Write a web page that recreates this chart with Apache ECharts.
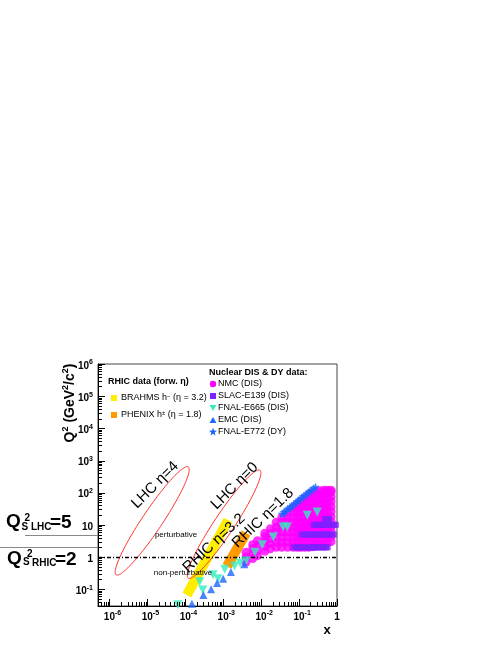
<!DOCTYPE html>
<html><head><meta charset="utf-8">
<script src="https://cdn.jsdelivr.net/npm/echarts@6/dist/echarts.min.js"></script>
<style>html,body{margin:0;padding:0;background:#fff}#c{width:498px;height:645px}</style>
</head><body><div id="c"></div>
<script>
// ---------------- data ----------------
const X_MIN = 5e-7, X_MAX = 1;
const Y_MIN = 0.03, Y_MAX = 1e6;
const xTickExps = [-6, -5, -4, -3, -2, -1, 0];
const yTickExps = [-1, 0, 1, 2, 3, 4, 5, 6];

// NMC (DIS): x columns and Q2 values per column
const nmcX = [0.004, 0.006, 0.008, 0.0125, 0.0175, 0.025, 0.035, 0.05, 0.07, 0.09, 0.11, 0.14, 0.18, 0.225, 0.275, 0.35, 0.45, 0.55, 0.7];
const nmcQ2 = [
  [0.7, 1.0, 1.4],
  [0.9, 1.3, 1.8, 2.4],
  [1.1, 1.6, 2.3, 3.2],
  [1.5, 2.1, 3.0, 4.3, 5.5],
  [1.8, 2.6, 3.7, 5.3, 7.5],
  [2.0, 2.9, 4.2, 6.0, 8.5, 12],
  [2.0, 2.9, 4.2, 6.0, 8.6, 12, 17],
  [2.0, 2.9, 4.2, 6.0, 8.6, 12, 17, 24],
  [2.0, 2.9, 4.2, 6.0, 8.6, 12, 17, 25, 34],
  [2.0, 2.9, 4.2, 6.0, 8.6, 12, 17, 25, 35, 44],
  [2.0, 2.9, 4.2, 6.0, 8.6, 12, 17, 25, 36, 52],
  [2.0, 2.9, 4.2, 6.0, 8.6, 12, 17, 25, 36, 50, 66],
  [2.0, 2.9, 4.2, 6.0, 8.6, 12, 17, 25, 36, 52, 70, 85],
  [2.1, 3.0, 4.3, 6.2, 8.8, 12.5, 18, 26, 37, 53, 75, 100],
  [2.2, 3.1, 4.5, 6.4, 9.2, 13, 19, 27, 39, 56, 80, 110],
  [2.4, 3.4, 4.9, 7.0, 10, 14, 20, 29, 42, 60, 85, 115],
  [2.6, 3.7, 5.3, 7.6, 11, 15.5, 22, 32, 46, 65, 92, 120],
  [2.8, 4.0, 5.7, 8.2, 11.7, 16.7, 24, 34, 49, 70, 100, 120],
  [3.0, 4.3, 6.1, 8.7, 12.5, 18, 26, 37, 53, 75, 105, 120]
];
// SLAC-E139 (DIS): Q2 rows and x values per row
const slacQ2 = [2, 5, 10, 15];
const slacX = [
  [0.075, 0.089, 0.1, 0.12, 0.14, 0.16, 0.2, 0.22, 0.25, 0.28, 0.31, 0.35, 0.4, 0.45, 0.5, 0.55],
  [0.12, 0.14, 0.16, 0.185, 0.2, 0.22, 0.25, 0.28, 0.31, 0.35, 0.4, 0.45, 0.5, 0.55, 0.6, 0.7, 0.8],
  [0.25, 0.28, 0.31, 0.35, 0.4, 0.45, 0.5, 0.55, 0.6, 0.7, 0.8, 0.9],
  [0.5, 0.55, 0.6]
];
// FNAL-E665 (DIS)
const e665X  = [6.4e-5, 2.4e-4, 2.9e-4, 5.4e-4, 7.3e-4, 1.1e-3, 2.0e-3, 2.8e-3, 4.0e-3, 6.9e-3, 1.07e-2, 2.1e-2, 3.8e-2, 4.9e-2, 0.165, 0.30];
const e665Q2 = [0.033, 0.17, 0.095, 0.28, 0.21, 0.42, 0.53, 0.65, 0.75, 1.4, 2.4, 4.2, 8.5, 8.5, 20, 25];
// EMC (DIS)
const emcX  = [1.5e-4, 3.0e-4, 4.8e-4, 6.9e-4, 1.0e-3, 1.6e-3, 3.6e-3];
const emcQ2 = [0.035, 0.066, 0.10, 0.155, 0.21, 0.34, 0.6];
// FNAL-E772 (DY)
const e772X  = [0.036, 0.040, 0.045, 0.050, 0.056, 0.063, 0.071, 0.080, 0.090, 0.10, 0.115, 0.13, 0.145, 0.165, 0.185, 0.21, 0.24, 0.27];
const e772Q2 = [22, 25, 27, 31, 34, 38, 43, 47, 54, 60, 68, 77, 84, 95, 108, 120, 136, 150];

// RHIC bands (x, Q2 at both ends)
const brahmsBand = [[1.1e-4, 0.066], [1.35e-3, 14]];
const phenixBand = [[1.26e-3, 0.52], [4.0e-3, 5.6]];
// LHC ellipses: ends of the long axis
const ellipseLow  = [[1.5e-6, 0.28], [1.2e-4, 0.22]];
const ellipseHigh = [[1.2e-4, 630], [9.3e-3, 500]];

// annotations
const annoText = ['LHC η=4', 'LHC η=0', 'RHIC η=3.2', 'RHIC η=1.8', 'perturbative', 'non-perturbative'];
const annoX = [1.6e-5, 2.0e-3, 5.7e-4, 1.12e-2, 5.7e-5, 8.7e-5];
const annoQ2 = [174, 162, 2.7, 16.3, 4.8, 0.32];
const qsLevels = [5, 2];

// ---------------- styles ----------------
const FONT = "'Liberation Sans', Arial, Helvetica, sans-serif";
const C_NMC = '#ff00ff', C_SLAC = '#8020ff', C_E665 = '#33eebb', C_BLUE = '#1a66ff';
const C_YEL = '#ffee00', C_ORA = '#ff9a00', C_RED = '#ff3333';
const annoRot = [45, 45, 43, 44, 0, 0];
const annoSize = [15, 15, 15, 15, 8, 8];
const qsLineLen = [73, 98];
const STAR = 'path://M12,0 L15,8.5 L24,9 L17,14.5 L19.5,23.5 L12,18.5 L4.5,23.5 L7,14.5 L0,9 L9,8.5 Z';

const nmcData = [];
nmcX.forEach((x, i) => nmcQ2[i].forEach(q => nmcData.push([x, q])));
const slacData = [];
slacQ2.forEach((q, i) => slacX[i].forEach(x => slacData.push([x, q])));
const zip = (a, b) => a.map((v, i) => [v, b[i]]);

const richTick = {
  b: {fontSize: 10, fontWeight: 'bold', fontFamily: FONT, lineHeight: 14, fill: '#000'},
  s: {fontSize: 7, fontWeight: 'bold', fontFamily: FONT, lineHeight: 6, verticalAlign: 'top', fill: '#000'}
};
function tickText(e) {
  if (e === 0) return '{b|1}';
  if (e === 1) return '{b|10}';
  return '{b|10}{s|' + e + '}';
}

function renderAxes(params, api) {
  const bl = api.coord([X_MIN, Y_MIN]);
  const L = bl[0], B = bl[1];
  const ch = [];
  const ln = (x1, y1, x2, y2) => ch.push({type: 'line', shape: {x1, y1, x2, y2}, style: {stroke: '#000', lineWidth: 1}});
  for (let e = -7; e <= 0; e++) {
    for (let k = 1; k <= 9; k++) {
      const v = k * Math.pow(10, e);
      if (v <= X_MIN * 1.0001 || v > X_MAX * 1.0001) continue;
      const px = Math.round(api.coord([v, Y_MIN])[0]) + 0.5;
      ln(px, B, px, B - (k === 1 ? 7 : 4));
    }
  }
  for (let e = -2; e <= 6; e++) {
    for (let k = 1; k <= 9; k++) {
      const v = k * Math.pow(10, e);
      if (v <= Y_MIN * 1.0001 || v > Y_MAX * 1.0001) continue;
      const py = Math.round(api.coord([X_MIN, v])[1]) + 0.5;
      ln(L, py, L + (k === 1 ? 7 : 4), py);
    }
  }
  xTickExps.forEach(e => {
    const px = api.coord([Math.pow(10, e), Y_MIN])[0];
    ch.push({type: 'text', x: e === 0 ? px : px - 5.6, y: B + 4,
      style: {text: tickText(e), rich: richTick, align: e === 0 ? 'center' : 'left', verticalAlign: 'top',
        textAlign: e === 0 ? 'center' : 'left', textVerticalAlign: 'top', font: 'bold 10px ' + FONT, fill: '#000'}});
  });
  yTickExps.forEach(e => {
    const py = api.coord([X_MIN, Math.pow(10, e)])[1];
    ch.push({type: 'text', x: L - 5, y: py + 2,
      style: {text: tickText(e), rich: richTick, align: 'right', verticalAlign: 'middle',
        textAlign: 'right', textVerticalAlign: 'middle', font: 'bold 10px ' + FONT, fill: '#000'}});
  });
  qsLevels.forEach((q, i) => {
    const py = Math.round(api.coord([X_MIN, q])[1]) + 0.5;
    ch.push({type: 'line', shape: {x1: L - qsLineLen[i], y1: py, x2: L, y2: py}, style: {stroke: '#888', lineWidth: 1}});
  });
  return {type: 'group', children: ch};
}

function renderEllipse(params, api) {
  const p1 = api.coord([api.value(0), api.value(1)]);
  const p2 = api.coord([api.value(2), api.value(3)]);
  const cx = (p1[0] + p2[0]) / 2, cy = (p1[1] + p2[1]) / 2;
  const dx = p2[0] - p1[0], dy = p2[1] - p1[1];
  const a = Math.hypot(dx, dy) / 2, b = 10;
  const ux = dx / (2 * a), uy = dy / (2 * a), vx = -uy, vy = ux;
  const pts = [];
  for (let i = 0; i < 120; i++) {
    const t = i / 120 * Math.PI * 2;
    pts.push([cx + a * Math.cos(t) * ux + b * Math.sin(t) * vx, cy + a * Math.cos(t) * uy + b * Math.sin(t) * vy]);
  }
  return {type: 'polygon', shape: {points: pts}, style: {fill: 'none', stroke: C_RED, lineWidth: 1}};
}

function renderAnno(params, api) {
  const i = api.value(2);
  const p = api.coord([api.value(0), api.value(1)]);
  return {type: 'text', x: p[0], y: p[1], rotation: annoRot[i] * Math.PI / 180,
    style: {text: annoText[i], font: annoSize[i] + 'px ' + FONT, fill: '#000', align: 'center', verticalAlign: 'middle',
      textAlign: 'center', textVerticalAlign: 'middle'}};
}

function starPts(cx, cy, R, r) {
  const p = [];
  for (let i = 0; i < 10; i++) {
    const ang = -Math.PI / 2 + i * Math.PI / 5;
    const rr = i % 2 ? r : R;
    p.push([cx + rr * Math.cos(ang), cy + rr * Math.sin(ang)]);
  }
  return p;
}

const tx = (text, x, y, font, extra) => Object.assign({type: 'text', x, y,
  style: Object.assign({text, font, fill: '#000', align: 'left', verticalAlign: 'middle', textAlign: 'left', textVerticalAlign: 'middle'}, extra || {})});

const graphics = [
  // y axis title
  {type: 'text', x: 70, y: 403, rotation: Math.PI / 2,
    style: {text: '{b|Q}{s|2}{b| (GeV}{s|2}{b|/c}{s|2}{b|)}', align: 'center', verticalAlign: 'middle', textAlign: 'center', textVerticalAlign: 'middle',
      rich: {b: {fontSize: 14, fontWeight: 'bold', fontFamily: FONT, lineHeight: 18, fill: '#000'},
             s: {fontSize: 9, fontWeight: 'bold', fontFamily: FONT, lineHeight: 10, verticalAlign: 'top', fill: '#000'}}}},
  tx('x', 327, 630, 'bold 13px ' + FONT, {align: 'center', textAlign: 'center'}),
  // Q_S labels
  tx('Q', 6, 522, 'bold 19px ' + FONT),
  tx('S', 21.5, 527, 'bold 10px ' + FONT),
  tx('2', 24.5, 518, 'bold 10px ' + FONT),
  tx('LHC', 31, 527, 'bold 10px ' + FONT),
  tx('=5', 50, 523, 'bold 19px ' + FONT),
  tx('Q', 7, 559, 'bold 19px ' + FONT),
  tx('S', 23, 562, 'bold 10px ' + FONT),
  tx('2', 27, 554, 'bold 10px ' + FONT),
  tx('RHIC', 32, 563, 'bold 10px ' + FONT),
  tx('=2', 55, 560, 'bold 19px ' + FONT),
  // RHIC legend
  tx('RHIC data (forw. η)', 108, 382, 'bold 9px ' + FONT),
  {type: 'rect', shape: {x: 111, y: 395, width: 6, height: 6}, style: {fill: C_YEL}},
  {type: 'text', x: 121, y: 398, style: {text: 'BRAHMS h{s|−} (η = 3.2)', font: '9px ' + FONT, fill: '#000', verticalAlign: 'middle', textVerticalAlign: 'middle',
    rich: {s: {fontSize: 6, fontFamily: FONT, verticalAlign: 'top', lineHeight: 6, fill: '#000'}}}},
  {type: 'rect', shape: {x: 111, y: 412, width: 6, height: 6}, style: {fill: C_ORA}},
  {type: 'text', x: 121, y: 415, style: {text: 'PHENIX h{s|±} (η = 1.8)', font: '9px ' + FONT, fill: '#000', verticalAlign: 'middle', textVerticalAlign: 'middle',
    rich: {s: {fontSize: 6, fontFamily: FONT, verticalAlign: 'top', lineHeight: 6, fill: '#000'}}}},
  // Nuclear legend
  tx('Nuclear DIS & DY data:', 209, 373, 'bold 9px ' + FONT),
  {type: 'circle', shape: {cx: 213, cy: 384, r: 3.2}, style: {fill: C_NMC}},
  tx('NMC (DIS)', 218, 384, '9px ' + FONT),
  {type: 'rect', shape: {x: 210, y: 393, width: 6, height: 6}, style: {fill: C_SLAC}},
  tx('SLAC-E139 (DIS)', 218, 396, '9px ' + FONT),
  {type: 'polygon', shape: {points: [[209.5, 405], [216.5, 405], [213, 411]]}, style: {fill: C_E665}},
  tx('FNAL-E665 (DIS)', 218, 408, '9px ' + FONT),
  {type: 'polygon', shape: {points: [[209.5, 423], [216.5, 423], [213, 417]]}, style: {fill: C_BLUE}},
  tx('EMC (DIS)', 218, 420, '9px ' + FONT),
  {type: 'polygon', shape: {points: starPts(213, 432, 4.2, 1.8)}, style: {fill: C_BLUE}},
  tx('FNAL-E772 (DY)', 218, 432, '9px ' + FONT)
];

const chart = echarts.init(document.getElementById('c'), null, {renderer: 'canvas'});
chart.setOption({
  animation: false,
  backgroundColor: '#fff',
  grid: {left: 98, right: 161, top: 364, bottom: 39, show: true, borderColor: '#444', borderWidth: 1, outerBoundsMode: 'none', containLabel: false},
  xAxis: {type: 'log', logBase: 10, min: X_MIN, max: X_MAX,
    axisLine: {show: true, lineStyle: {color: '#000', width: 1}}, axisTick: {show: false}, axisLabel: {show: false}, splitLine: {show: false}},
  yAxis: {type: 'log', logBase: 10, min: Y_MIN, max: Y_MAX,
    axisLine: {show: true, lineStyle: {color: '#000', width: 1}}, axisTick: {show: false}, axisLabel: {show: false}, splitLine: {show: false}},
  graphic: graphics,
  series: [
    {type: 'line', name: 'BRAHMS', data: brahmsBand, symbol: 'none', silent: true, z: 1,
      lineStyle: {color: C_YEL, width: 10, cap: 'butt'}},
    {type: 'line', name: 'PHENIX', data: phenixBand, symbol: 'none', silent: true, z: 1,
      lineStyle: {color: C_ORA, width: 10, cap: 'butt'}},
    {type: 'custom', name: 'LHC', renderItem: renderEllipse, silent: true, z: 2,
      encode: {x: [0, 2], y: [1, 3]},
      data: ellipseLow.map((p, i) => [p[0], p[1], ellipseHigh[i][0], ellipseHigh[i][1]])},
    {type: 'scatter', name: 'NMC (DIS)', data: nmcData, symbol: 'circle', symbolSize: 9, z: 3,
      itemStyle: {color: C_NMC},
      markLine: {silent: true, symbol: 'none', label: {show: false}, z: 4,
        lineStyle: {color: '#000', type: [4, 2, 1, 2], width: 1.3}, data: [{yAxis: 1}]}},
    {type: 'scatter', name: 'SLAC-E139 (DIS)', data: slacData, symbol: 'rect', symbolSize: [7, 6], z: 4, itemStyle: {color: C_SLAC}},
    {type: 'scatter', name: 'FNAL-E665 (DIS)', data: zip(e665X, e665Q2), symbol: 'triangle', symbolRotate: 180, symbolSize: 9, z: 5, itemStyle: {color: C_E665}},
    {type: 'scatter', name: 'EMC (DIS)', data: zip(emcX, emcQ2), symbol: 'triangle', symbolSize: 8, z: 5, itemStyle: {color: C_BLUE}},
    {type: 'scatter', name: 'FNAL-E772 (DY)', data: zip(e772X, e772Q2), symbol: STAR, symbolSize: 9, z: 6, itemStyle: {color: C_BLUE}},
    {type: 'custom', name: 'anno', renderItem: renderAnno, silent: true, z: 7, clip: false,
      encode: {x: 0, y: 1}, data: annoText.map((t, i) => [annoX[i], annoQ2[i], i])},
    {type: 'custom', name: 'axes', renderItem: renderAxes, silent: true, z: 8, clip: false,
      encode: {x: 0, y: 1}, data: [[X_MIN, Y_MIN]]}
  ]
});
</script></body></html>
